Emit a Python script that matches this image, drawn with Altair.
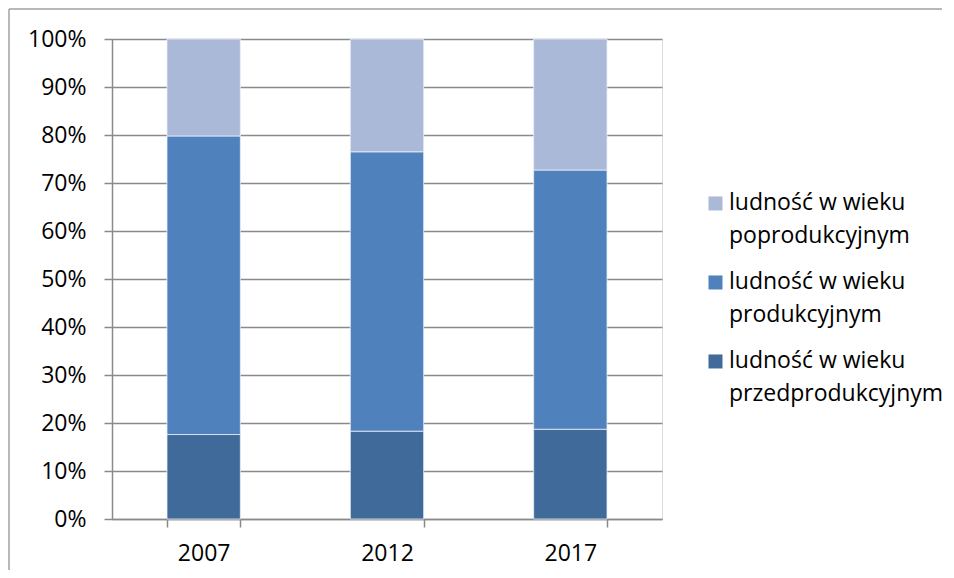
import altair as alt
import pandas as pd

years = ["2007", "2012", "2017"]
series = [
    "ludność w wieku przedprodukcyjnym",
    "ludność w wieku produkcyjnym",
    "ludność w wieku poprodukcyjnym",
]
pre_values = [17.6, 18.3, 18.7]
prod_values = [62.2, 58.2, 54.0]
post_values = [20.2, 23.5, 27.3]
colors = ["#3F6A9A", "#4F81BD", "#AAB9D7"]
y_ticks = [0, 10, 20, 30, 40, 50, 60, 70, 80, 90, 100]

rows = []
for i, y in enumerate(years):
    for k, (s, vals) in enumerate(zip(series, [pre_values, prod_values, post_values])):
        rows.append({"year": y, "series": s, "value": vals[i] / 100.0, "ord": k})
df = pd.DataFrame(rows)

legend_domain = series[::-1]
legend_range = colors[::-1]

FONT = "Open Sans"
FS = 23
GRID = "#8A8A8A"

bars = alt.Chart(df).mark_bar(stroke="#E8EEF7", strokeWidth=0.8).encode(
    x=alt.X(
        "year:N",
        title=None,
        sort=years,
        scale=alt.Scale(paddingInner=0.6, paddingOuter=0.3),
        axis=alt.Axis(
            labelAngle=0,
            labelFont=FONT,
            labelFontSize=FS,
            labelColor="#000000",
            labelPadding=15,
            tickBand="extent",
            tickSize=8,
            tickColor=GRID,
            tickWidth=1.5,
            domainColor=GRID,
            domainWidth=1.5,
            grid=False,
        ),
    ),
    y=alt.Y(
        "value:Q",
        title=None,
        stack="zero",
        scale=alt.Scale(domain=[0, 1], nice=False),
        axis=alt.Axis(
            format=".0%",
            values=[v / 100.0 for v in y_ticks],
            labelFont=FONT,
            labelFontSize=FS,
            labelColor="#000000",
            labelPadding=18,
            tickSize=8,
            tickColor=GRID,
            tickWidth=1.5,
            domainColor=GRID,
            domainWidth=1.5,
            grid=True,
            gridColor=GRID,
            gridWidth=1.5,
        ),
    ),
    color=alt.Color(
        "series:N",
        scale=alt.Scale(domain=legend_domain, range=legend_range),
        legend=alt.Legend(
            title=None,
            orient="none",
            legendX=592,
            legendY=159,
            padding=0,
            symbolType="M-1,-1.86H1V0.14H-1Z",
            symbolSize=196,
            symbolStrokeWidth=0,
            labelFont=FONT,
            labelFontSize=FS,
            labelColor="#000000",
            labelOffset=2,
            labelLimit=400,
            labelBaseline="alphabetic",
            rowPadding=22,
            labelExpr="['ludność w wieku', replace(datum.label, 'ludność w wieku ', '')]",
        ),
    ),
    order=alt.Order("ord:Q", sort="ascending"),
)

frame_df = pd.DataFrame({"a": [0]})
frame_left = alt.Chart(frame_df).mark_rule(color="#A0A0A0", strokeWidth=1.5).encode(
    x=alt.value(-103), y=alt.value(-30), y2=alt.value(531)
)
frame_top = alt.Chart(frame_df).mark_rule(color="#A0A0A0", strokeWidth=1.5).encode(
    x=alt.value(-103), x2=alt.value(830), y=alt.value(-30)
)

chart = (
    alt.layer(frame_left, frame_top, bars)
    .properties(width=550, height=480, padding=0, background="white")
    .configure_view(stroke=None)
    .configure(style={"guide-label": {"lineHeight": 33.5}})
)

chart.save("out.html", embed_options={"renderer": "svg", "actions": False})
